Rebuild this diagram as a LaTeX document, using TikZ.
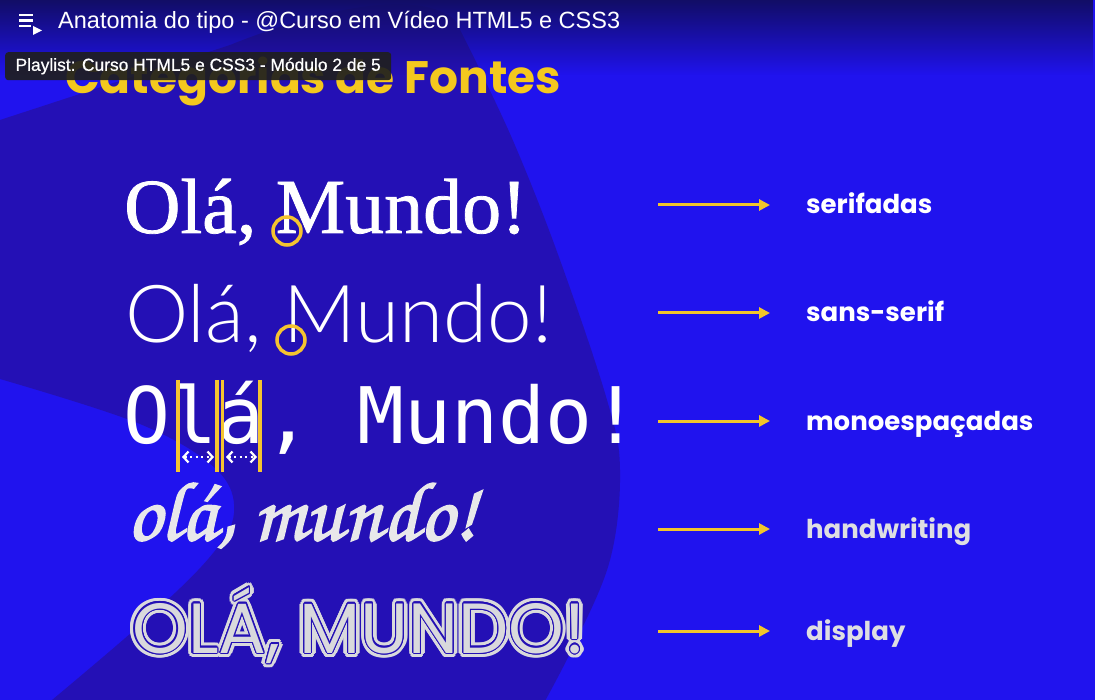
\documentclass[tikz,border=0pt]{standalone}
\usepackage{fontspec}
\usepackage{contour}
\usetikzlibrary{arrows.meta,fadings}
\setmainfont{Liberation Sans}
\newfontfamily\fntui{Liberation Sans}
\newfontfamily\fnttip[FakeBold=0.6]{Liberation Sans}
\newfontfamily\fntgeo{Poppins}
\newfontfamily\fntserif[FakeBold=1]{Liberation Serif}
\IfFontExistsTF{Lato Light}
  {\newfontfamily\fntsans{Lato Light}}
  {\newfontfamily\fntsans{Lato}}
\newfontfamily\fntmono{DejaVu Sans Mono}
\newfontfamily\fnthand[FakeBold=2]{texgyrechorus-mediumitalic.otf}
\definecolor{bglight}{HTML}{2013EE}
\definecolor{bgdark}{HTML}{2410B5}
\definecolor{topnavy}{HTML}{120D66}
\definecolor{titleyellow}{HTML}{F4C81E}
\definecolor{arrowyellow}{HTML}{F2C52A}
\definecolor{guideyellow}{HTML}{F5C430}
\definecolor{labelgray}{HTML}{DEDEE2}
\definecolor{handgray}{HTML}{E8E8EA}
\definecolor{dispgray}{HTML}{D9D9DC}
\definecolor{tipgray}{HTML}{1F1F1F}
\tikzfading[name=fadedown,top color=transparent!0,bottom color=transparent!100]
\contournumber{16}
\begin{document}
\begin{tikzpicture}[x=1pt,y=-1pt,
  sample/.style={anchor=base west,inner sep=0pt,text=white},
  catlabel/.style={anchor=base west,inner sep=0pt,font=\fntgeo\bfseries\fontsize{26}{26}\selectfont},
  catarrow/.style={draw=arrowyellow,line width=3pt,-{Triangle[length=11pt,width=11pt]}},
  guide/.style={draw=guideyellow,line width=3.5pt},
  ring/.style={draw=guideyellow,line width=3.5pt,circle,minimum size=28pt,inner sep=0pt},
  spacing/.style={draw=white,line width=2.2pt,dash pattern=on 2pt off 3.5pt,
    {Straight Barb[length=5pt,width=11pt]}-{Straight Barb[length=5pt,width=11pt]}}]
 \useasboundingbox (0,0) rectangle (1095,700);
 % background
 \fill[bglight] (0,0) rectangle (1095,700);
 \fill[bgdark] (0,120) -- (230,45) .. controls (330,5) and (420,-10) .. (455,20)
   -- plot[smooth,tension=0.6] coordinates {(455,20) (480,70) (517,150) (560,260) (607,400) (620,470) (610,560) (573,647) (540,710)}
   -- (40,710)
   -- plot[smooth,tension=0.6] coordinates {(40,710) (140,625) (209,558) (234,513) (216,469) (140,424) (0,379)}
   -- cycle;
 \fill[topnavy,path fading=fadedown] (0,0) rectangle (1095,75);

 % video bar
 \draw[white,line width=2.6pt] (19,15) -- (33,15) (19,20.5) -- (33,20.5) (19,26) -- (31,26);
 \fill[white] (33,26) -- (33,35) -- (42,30.5) -- cycle;
 \node[anchor=base west,inner sep=0pt,text=white,font=\fntui\fontsize{23.5}{24}\selectfont] (video) at (58,29)
   {Anatomia do tipo - @Curso em Vídeo HTML5 e CSS3};

 \node[anchor=base west,inner sep=0pt,text=titleyellow,font=\fntgeo\bfseries\fontsize{45.5}{46}\selectfont] (title) at (65,94)
   {Categorias de Fontes};
 \node[anchor=north west,fill=tipgray,fill opacity=0.92,text opacity=1,rounded corners=3pt,
   minimum width=386pt,minimum height=28pt,inner sep=0pt,text=white,
   font=\fnttip\fontsize{17.4}{18}\selectfont] (playlist) at (5,52)
   {Playlist: Curso HTML5 e CSS3 - Módulo 2 de 5};

 % samples
 \node[sample,font=\fntserif\fontsize{78}{78}\selectfont] (serif) at (124,233) {Olá, Mundo!};
 \node[ring] (serifmark) at (287,231) {};
 \node[sample,font=\fntsans\fontsize{80}{80}\selectfont] (sans) at (125,343) {Olá, Mundo!};
 \node[ring] (sansmark) at (291,340) {};
 \node[sample,font=\fntmono\fontsize{78}{78}\selectfont] (mono) at (123,443) {Olá, Mundo!};
 \draw[guide] (178,380) -- (178,472);
 \draw[guide] (217,380) -- (217,472);
 \draw[guide] (222.5,380) -- (222.5,472);
 \draw[guide] (260,380) -- (260,472);
 \coordinate (lwa) at (182,457);
 \coordinate (lwb) at (214,457);
 \coordinate (awa) at (226,457);
 \coordinate (awb) at (257,457);
 \draw[spacing] (lwa) -- (lwb);
 \draw[spacing] (awa) -- (awb);
 \node[sample,text=handgray,font=\fnthand\fontsize{84}{84}\selectfont] (hand) at (127,540) {olá, mundo!};
 \node[sample,text=dispgray,font=\fntgeo\fontsize{71}{71}\selectfont] (disp) at (132,653)
   {\contourlength{4.6pt}\contour{dispgray}{OLÁ, MUNDO!}};
 \node[sample,text=dispgray,font=\fntgeo\fontsize{71}{71}\selectfont] (dispinner) at (132,653)
   {\contourlength{1.3pt}\contour{bgdark}{OLÁ, MUNDO!}};

 % categories
 \foreach \i/\y/\txt/\col in {1/205/serifadas/white,2/313/sans-serif/white,3/421/monoespaçadas/white,
   4/529/handwriting/labelgray,5/631/display/labelgray} {
   \node[catlabel,text=\col] (lab\i) at (806,\y+9) {\txt};
   \coordinate (tail\i) at (658,\y);
   \draw[catarrow,shorten >=36pt] (tail\i) -- (tail\i -| lab\i.west);
 }
\end{tikzpicture}
\end{document}
